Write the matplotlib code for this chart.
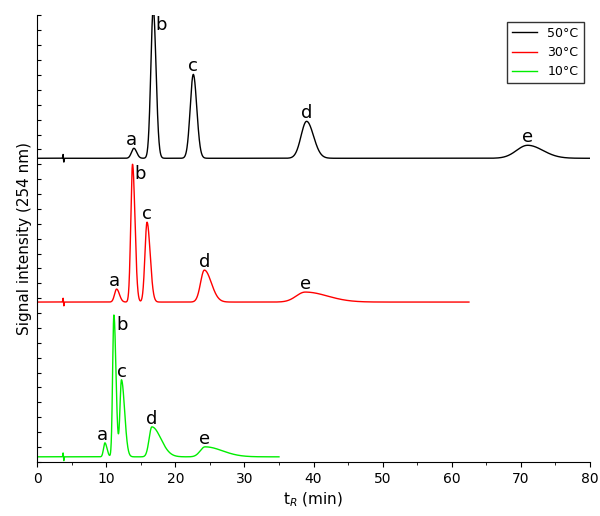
import numpy as np
import matplotlib
matplotlib.use("Agg")
import matplotlib.pyplot as plt
from matplotlib.ticker import MultipleLocator, AutoMinorLocator

labels = ["a", "b", "c", "d", "e"]
series = ["50°C", "30°C", "10°C"]
colors = ["black", "red", "#00ee00"]
baselines = [304, 160, 5]
t_end = [80, 62.5, 35]
# peak retention times, heights, left/right widths
pos = [[14.0, 16.8, 22.6, 39.0, 71.0],
       [11.5, 13.8, 15.9, 24.2, 38.8],
       [9.8, 11.1, 12.2, 16.6, 24.3]]
height = [[10, 150, 84, 37, 13],
          [13, 138, 80, 32, 10],
          [14, 142, 77, 30, 10]]
sig_l = [[0.35, 0.35, 0.45, 0.8, 1.6],
         [0.3, 0.25, 0.3, 0.55, 1.3],
         [0.2, 0.18, 0.22, 0.4, 0.7]]
sig_r = [[0.4, 0.4, 0.5, 1.0, 2.2],
         [0.4, 0.35, 0.45, 1.0, 3.2],
         [0.3, 0.3, 0.45, 1.3, 2.5]]
inj_t = 3.8

fig, ax = plt.subplots(figsize=(6.0, 5.16), dpi=100)
fig.subplots_adjust(left=0.062, right=0.983, top=0.97, bottom=0.105)
for i in range(3):
    t = np.linspace(0, t_end[i], 4000)
    y = np.full_like(t, float(baselines[i]))
    for p, h, sl, sr in zip(pos[i], height[i], sig_l[i], sig_r[i]):
        s = np.where(t < p, sl, sr)
        y += h * np.exp(-0.5 * ((t - p) / s) ** 2)
    y += 4 * np.exp(-0.5 * ((t - inj_t + 0.05) / 0.04) ** 2) - 4 * np.exp(-0.5 * ((t - inj_t - 0.05) / 0.04) ** 2)
    ax.plot(t, y, color=colors[i], lw=1, label=series[i])
    for lab, p, h in zip(labels, pos[i], height[i]):
        if lab == "b":
            ax.text(p + 0.3, min(baselines[i] + h, 447) - 1, lab, fontsize=13, va="top", ha="left")
        else:
            ax.text(p - 0.3 if lab == "a" else p, baselines[i] + h - 1, lab, fontsize=13, va="bottom", ha="center")

ax.set_xlim(0, 80)
ax.set_ylim(0, 447)
for s in ["top", "right"]:
    ax.spines[s].set_visible(False)
ax.xaxis.set_major_locator(MultipleLocator(10))
ax.xaxis.set_minor_locator(AutoMinorLocator(2))
ax.yaxis.set_major_locator(MultipleLocator(14.9))
ax.tick_params(axis="y", which="both", labelleft=False, direction="in", length=3)
ax.set_xlabel("t$_R$ (min)", fontsize=11)
ax.set_ylabel("Signal intensity (254 nm)", fontsize=11)
ax.legend(loc="upper right", fancybox=False, edgecolor="black", fontsize=9)
fig.savefig("out.png")
